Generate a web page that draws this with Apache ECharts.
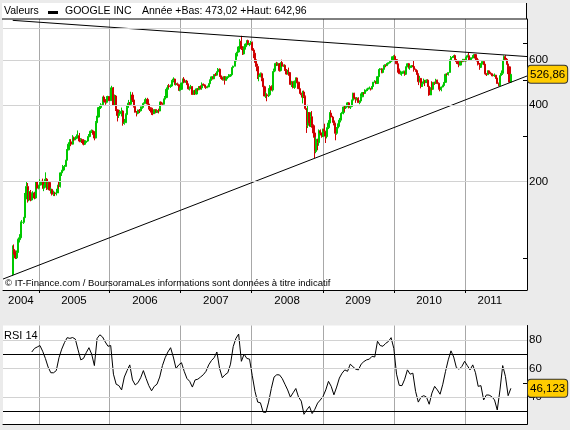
<!DOCTYPE html>
<html><head><meta charset="utf-8">
<script src="https://cdn.jsdelivr.net/npm/echarts@6/dist/echarts.min.js"></script>
<style>html,body{margin:0;padding:0;background:#ebebeb}#c{width:570px;height:430px}</style>
</head><body><div id="c"></div>
<script>
// ---- DATA ----
const firstWeek = '2004-08-20';           // first weekly bar
const title = 'GOOGLE INC';
const yearLow = 473.02, yearHigh = 642.96;
const lastPrice = 526.86, lastRsi = 46.123;
// weekly candles [open, close, low, high]
const c2004 = [[86,108,85,112],[108,106,103,113],[106,100,99,107],[100,105,99,107],[105,118,104,119],[118,120,115,124],[120,138,119,139],[138,138,134,141],[138,144,136,145],[144,172,141,180],[172,191,170,199],[191,169,165,197],[169,182,167,185],[182,169,167,185],[169,179,168,181],[179,180,172,183],[180,172,170,182],[172,199,171,200],[199,188,186,200],[188,193,186,194]];
const c2005 = [[193,195,190,204],[195,200,193,201],[200,188,187,205],[188,190,183,194],[190,204,189,217],[204,187,185,206],[187,198,186,199],[198,185,184,200],[185,186,179,189],[186,178,176,187],[178,180,175,184],[180,179,175,182],[179,180,176,187],[180,192,180,194],[192,191,187,199],[191,216,189,217],[216,220,210,222],[220,228,219,232],[228,229,221,232],[229,242,228,243],[242,266,241,268],[266,280,265,285],[280,286,275,293],[286,280,275,293],[280,297,279,304],[297,291,288,300],[291,296,291,301],[296,301,293,306],[301,302,295,317],[302,288,285,310],[288,292,285,296],[292,290,283,295],[290,280,277,293],[280,284,278,289],[284,288,280,290],[288,299,286,301],[299,300,296,307],[300,315,300,317],[315,316,310,320],[316,313,305,319],[313,296,290,315],[296,340,295,345],[340,358,334,362],[358,390,357,391],[390,390,380,397],[390,400,385,406],[400,429,398,430],[429,418,410,435],[418,409,400,421],[409,430,405,433],[430,431,424,434],[431,415,414,432]];
const c2006 = [[415,466,415,467],[466,466,458,475],[466,399,397,470],[399,433,399,439],[433,382,378,437],[382,363,344,383],[363,369,355,372],[369,377,365,382],[377,378,360,390],[378,338,331,380],[338,340,334,352],[340,366,340,370],[366,390,366,399],[390,406,389,418],[406,402,398,410],[402,437,400,450],[437,418,410,448],[418,394,390,420],[394,374,373,398],[374,370,360,378],[370,381,367,383],[381,379,371,385],[379,387,376,394],[387,391,378,394],[391,405,390,409],[405,419,402,421],[419,420,416,426],[420,403,401,426],[403,390,383,406],[390,388,378,395],[388,374,365,390],[374,369,364,378],[369,383,368,385],[383,373,370,384],[373,379,372,381],[379,378,370,386],[378,410,377,411],[410,404,398,412],[404,402,397,408],[402,421,400,423],[421,427,418,433],[427,460,425,468],[460,475,458,478],[475,472,465,483],[472,474,466,481],[474,499,472,500],[499,505,490,513],[505,481,478,507],[481,484,476,488],[484,480,475,489],[480,456,454,484],[456,460,452,468]];
const c2007 = [[460,487,459,488],[487,505,484,507],[505,490,488,514],[490,496,487,499],[496,482,478,501],[482,462,459,485],[462,470,455,472],[470,471,467,479],[471,439,437,474],[439,453,438,456],[453,441,437,458],[441,462,439,463],[462,458,451,465],[458,472,458,474],[472,466,459,477],[466,482,458,490],[482,479,475,485],[479,471,467,482],[471,467,462,473],[467,470,465,476],[470,484,469,486],[484,500,483,503],[500,515,497,518],[515,506,503,518],[506,525,505,528],[525,523,518,534],[523,539,522,541],[539,552,538,558],[552,520,515,556],[520,512,506,525],[512,503,498,516],[503,516,498,518],[516,500,480,518],[500,515,497,516],[515,515,504,518],[515,519,511,528],[519,525,515,528],[525,560,523,561],[560,567,560,570],[567,594,567,596],[594,637,593,639],[637,645,620,677],[645,675,641,680],[675,711,673,725],[711,664,657,747],[664,634,628,680],[634,677,631,678],[677,693,659,697],[693,715,690,717],[715,690,686,721],[690,697,680,700],[697,703,694,713]];
const c2008 = [[703,657,652,709],[657,638,610,668],[638,600,585,645],[600,566,542,603],[566,516,505,580],[516,517,495,524],[517,530,513,536],[530,508,495,535],[508,471,470,513],[471,433,432,475],[433,438,425,450],[438,434,413,444],[434,438,429,465],[438,471,437,478],[471,457,455,477],[457,539,451,542],[539,544,535,555],[544,581,542,585],[581,573,568,590],[573,580,570,587],[580,545,540,583],[545,586,541,588],[586,567,565,602],[567,572,563,576],[572,546,543,577],[546,528,525,553],[528,537,526,549],[537,534,520,560],[534,481,478,537],[481,492,470,497],[492,468,464,494],[468,495,462,498],[495,510,494,512],[510,491,486,512],[491,463,461,492],[463,444,442,476],[444,438,427,446],[438,449,405,454],[449,431,425,455],[431,387,382,435],[387,332,310,388],[332,373,324,400],[373,339,328,375],[339,359,327,374],[359,331,325,378],[331,310,297,335],[310,262,247,312],[262,293,258,299],[293,284,265,294],[284,316,276,320],[316,310,303,320],[310,300,297,311]];
const c2009 = [[300,321,299,322],[321,315,300,337],[315,300,283,316],[300,325,295,326],[325,339,321,348],[339,371,334,374],[371,358,356,381],[358,346,340,362],[346,338,332,350],[338,309,290,340],[309,324,305,327],[324,330,320,338],[330,348,328,355],[348,370,341,371],[370,373,361,375],[373,392,367,393],[392,389,376,396],[389,394,385,397],[394,407,391,409],[407,390,387,409],[390,394,385,399],[394,417,391,419],[417,444,414,446],[444,425,420,446],[425,420,407,428],[420,425,416,429],[425,408,407,428],[408,414,402,416],[414,430,413,443],[430,447,429,449],[447,443,437,448],[443,457,443,460],[457,460,451,463],[460,465,453,466],[465,465,460,472],[465,461,455,465],[461,472,461,474],[472,491,471,492],[491,492,489,500],[492,485,482,497],[485,516,484,517],[516,550,512,552],[550,554,545,558],[554,536,532,557],[536,551,532,553],[551,572,551,577],[572,570,562,577],[570,580,570,584],[580,585,577,588],[585,591,581,595],[591,596,584,598],[596,618,594,619],[618,620,615,626]];
const c2010 = [[620,602,600,630],[602,580,578,605],[580,550,535,596],[550,530,528,555],[530,531,525,545],[531,533,520,541],[533,541,530,545],[541,527,520,545],[527,564,525,566],[564,580,562,583],[580,560,555,584],[560,563,549,572],[563,569,559,573],[569,566,563,572],[566,550,540,597],[550,545,539,555],[545,526,525,548],[526,493,478,532],[493,508,490,520],[508,472,464,509],[472,486,470,494],[486,499,482,507],[499,489,474,500],[489,500,488,503],[500,473,470,504],[473,437,434,474],[437,467,437,469],[467,460,455,495],[460,490,460,492],[490,485,479,493],[485,500,483,506],[500,486,482,502],[486,462,459,490],[462,459,452,465],[459,470,452,472],[470,476,468,480],[476,490,474,491],[490,527,489,530],[527,526,519,532],[526,536,521,537],[536,601,535,602],[601,613,598,622],[613,614,611,622],[614,625,612,626],[625,603,600,630],[603,591,579,605],[591,590,577,596],[590,573,562,592],[573,592,572,593],[592,591,587,597],[591,604,589,605],[604,594,592,605]];
const c2011 = [[594,616,592,617],[616,624,614,630],[624,612,595,642],[612,601,596,619],[601,611,599,614],[611,625,608,628],[625,630,622,631],[630,610,600,631],[610,601,592,617],[601,577,571,605],[577,561,549,584],[561,580,559,584],[580,592,576,594],[592,578,573,594],[578,531,527,581],[531,525,519,532],[525,544,525,546],[544,535,530,545],[535,530,526,539],[530,524,518,534],[524,521,517,525],[521,523,515,531],[523,510,506,523],[510,485,484,510],[485,475,473,489],[475,521,475,521],[521,532,520,546],[532,598,524,600],[598,618,597,625],[618,604,600,627],[604,579,575,611],[579,564,528,580],[564,491,490,565],[491,527,489,529]];
// RSI 14, one reading every second week starting at week 14
const rsiFirstWeek = 14, rsiEvery = 2;
const rsiA = [71.5,74,75,76,72,67,61,57,57,58.5,67.5,73.5,78,81.5,81,81.6,80.5,73,66,67,71,74.5,70,62,81,83.5,82,78.5,75.5,76,56,49,48,45,54,58.5,62.5,52,48.5,50,53.5,58.5,53,48,44.4,47.5,49,54,62,67.5,71.5,74.5,68,60,62.5,64,58,53,51,47,52,52.5,54,55.6,58,62.5,65.5,67.5,71.5,60,53.5,55.6,57,63,75.3,81,84,65,70,67,66.5,55,44,36.5,36,29.5,29.3,36.5,46,54];
const rsiB = [55.6,55.5,53,49,45,40,43,46,40,37.2,28,31,33.5,28.5,31.5,35.8,38,40.5,45,51,47.5,41.6,47,53.3,56.7,59,58,63,61.2,59.5,59,63,64.8,66,66.5,68.5,68,79,76,75.5,77.5,78.8,81.5,74,56,48.2,48,52.5,59,56,56.7,44,36.5,40,41,40,35,42.8,47.5,45,42,49,58,66,72.3,68,60.5,59.5,61.4,65,62,59,62.5,57,47.5,48,38,41.5,41.4,40.3,38,31,45,62,54.5,41,46.123];
// trend lines [date, price]
const upperTrend = [['2004-08-20', 859], ['2011-11-17', 619]];
const lowerTrend = [['2004-07-01', 82.6], ['2011-11-17', 519]];
// axes
const xRange = ['2004-07-01', '2011-11-17'];
const yearStarts = ['2005-01-01','2006-01-01','2007-01-01','2008-01-01','2009-01-01','2010-01-01','2011-01-01'];
const yearLabelAt = ['2004-10-01','2005-07-01','2006-07-01','2007-07-01','2008-07-01','2009-07-01','2010-07-01','2011-05-10'];
const priceRange = [74.8, 869.6];
const priceTicks = [100,200,300,400,500,600,700,800];
const priceLabels = [200,400,600];
const priceGrid = [200,400,600,800];
const rsiRange = [21, 90];
const rsiTicks = [30,40,50,60,70,80];
const rsiLabels = [40,60,80];
const rsiGrid = [40,60,80];
const rsiBands = [30,70];

// ---- BUILD ----
const ts = s => { const p = s.split('-').map(Number); return Date.UTC(p[0], p[1]-1, p[2]); };
const WEEK = 7*864e5;
const t0 = ts(firstWeek);
const candles = [].concat(c2004,c2005,c2006,c2007,c2008,c2009,c2010,c2011)
  .map((d,i) => [t0 + i*WEEK, d[0], d[1], d[2], d[3]]);
const rsi = [].concat(rsiA, rsiB).map((v,k) => [t0 + (rsiFirstWeek + k*rsiEvery)*WEEK, v]);
const FONT = 'Liberation Sans';
const fmtFr = (v, n) => v.toFixed(n).replace('.', ',');
const GRID_GRAY = '#d2d2d2';

const chart = echarts.init(document.getElementById('c'), null, {renderer:'canvas'});
const yearFmt = v => String(new Date(v).getUTCFullYear());
const xCommon = (gi, labels) => ({
  type:'value', gridIndex: gi, min: ts(xRange[0]), max: ts(xRange[1]), scale:true,
  axisLine:{show:true, onZero:false, lineStyle:{color:'#000', width:1}},
  axisTick:{show: labels, length:3, inside:false, lineStyle:{color:'#000'}, customValues: yearStarts.map(ts)},
  axisLabel:{show: labels, customValues: yearLabelAt.map(ts), formatter: yearFmt, color:'#000', fontSize:11.5, fontFamily:FONT, margin:5, hideOverlap:false},
  splitLine:{show:true, lineStyle:{color:'#a8a8a8', width:1}},
  axisPointer:{show:false}
});
const boxLabel = n => ({show:true, formatter: p => fmtFr(p.value,n), backgroundColor:'#ffcc00', color:'#000', borderColor:'#333', borderWidth:1, padding:[3,2,2,2], fontSize:11.5, fontFamily:FONT, margin:1});
const hLines = (vals, color) => vals.map(v => ({yAxis:v, lineStyle:{color, width:1, type:'solid'}}));
chart.setOption({
  animation:false,
  backgroundColor:'#ebebeb',
  textStyle:{fontFamily:FONT},
  grid:[
    {left:3, right:43, top:19, height:271, show:true, backgroundColor:'#fff', borderWidth:0},
    {left:3, right:43, top:325.5, height:98.8, show:true, backgroundColor:'#fff', borderWidth:0}
  ],
  xAxis:[xCommon(0,true), xCommon(1,false)],
  yAxis:[
    {type:'log', gridIndex:0, position:'right', min:priceRange[0], max:priceRange[1],
     axisLine:{show:true, lineStyle:{color:'#000'}},
     axisTick:{show:true, inside:true, length:4, customValues:priceTicks, lineStyle:{color:'#000'}},
     axisLabel:{customValues:priceLabels, color:'#000', fontSize:11.5, fontFamily:FONT, margin:2},
     splitLine:{show:false},
     axisPointer:{show:true, status:'show', value:lastPrice, type:'line', lineStyle:{opacity:0}, triggerTooltip:false, label: boxLabel(2)}
    },
    {type:'value', gridIndex:1, position:'right', min:rsiRange[0], max:rsiRange[1],
     axisLine:{show:true, lineStyle:{color:'#000'}},
     axisTick:{show:true, inside:true, length:4, customValues:rsiTicks, lineStyle:{color:'#000'}},
     axisLabel:{customValues:rsiLabels, color:'#000', fontSize:11.5, fontFamily:FONT, margin:2},
     splitLine:{show:false},
     axisPointer:{show:true, status:'show', value:lastRsi, type:'line', lineStyle:{opacity:0}, triggerTooltip:false, label: boxLabel(3)}
    },
    // tick marks of the log price axis, placed on a log10 companion axis
    {type:'value', gridIndex:0, position:'right', min:Math.log10(priceRange[0]), max:Math.log10(priceRange[1]),
     axisLine:{show:false}, axisLabel:{show:false}, splitLine:{show:false},
     axisTick:{show:true, inside:true, length:4, customValues:priceTicks.map(Math.log10), lineStyle:{color:'#000'}},
     axisPointer:{show:false}}
  ],
  series:[
    {type:'candlestick', name:title, xAxisIndex:0, yAxisIndex:0, data:candles, z:2, barWidth:1.6,
     itemStyle:{color:'#00c800', color0:'#d00000', borderColor:'#00c800', borderColor0:'#d00000', borderWidth:1},
     markLine:{silent:true, symbol:['none','none'], label:{show:false}, data: hLines(priceGrid, GRID_GRAY)}},
    {type:'line', xAxisIndex:0, yAxisIndex:0, data: upperTrend.map(d=>[ts(d[0]), d[1]]), symbol:'none', z:3, lineStyle:{color:'#000', width:1}},
    {type:'line', xAxisIndex:0, yAxisIndex:0, data: lowerTrend.map(d=>[ts(d[0]), d[1]]), symbol:'none', z:3, lineStyle:{color:'#000', width:1}},
    {type:'line', name:'RSI 14', xAxisIndex:1, yAxisIndex:1, data:rsi, symbol:'none', z:3, lineStyle:{color:'#000', width:1},
     markLine:{silent:true, symbol:['none','none'], label:{show:false},
       data: hLines(rsiGrid, GRID_GRAY).concat(hLines(rsiBands, '#000'))}}
  ],
  graphic:[
    {type:'rect', z:-1, shape:{x:2, y:3, width:525, height:16}, style:{fill:'#fff'}},
    {type:'line', z:10, shape:{x1:2, y1:19, x2:527, y2:19}, style:{stroke:'#000', lineWidth:1}},
    {type:'line', z:10, shape:{x1:526.5, y1:3, x2:526.5, y2:19}, style:{stroke:'#000', lineWidth:1}},
    {type:'text', z:10, left:4, top:6, style:{text:'Valeurs', font:'10.5px '+FONT, fill:'#000'}},
    {type:'rect', z:10, shape:{x:48, y:11, width:10, height:3}, style:{fill:'#000'}},
    {type:'text', z:10, left:65, top:6, style:{text:title, font:'10.5px '+FONT, fill:'#000'}},
    {type:'text', z:10, left:142, top:6, style:{text:'Année +Bas: '+fmtFr(yearLow,2)+' +Haut: '+fmtFr(yearHigh,2), font:'10.5px '+FONT, fill:'#000'}},
    {type:'text', z:10, left:5, top:278, style:{text:'\u00a9 IT-Finance.com / BoursoramaLes informations sont données à titre indicatif', font:'9.5px '+FONT, fill:'#000'}},
    {type:'text', z:10, left:4, top:330, style:{text:'RSI 14', font:'11px '+FONT, fill:'#000'}}
  ]
});
</script></body></html>
